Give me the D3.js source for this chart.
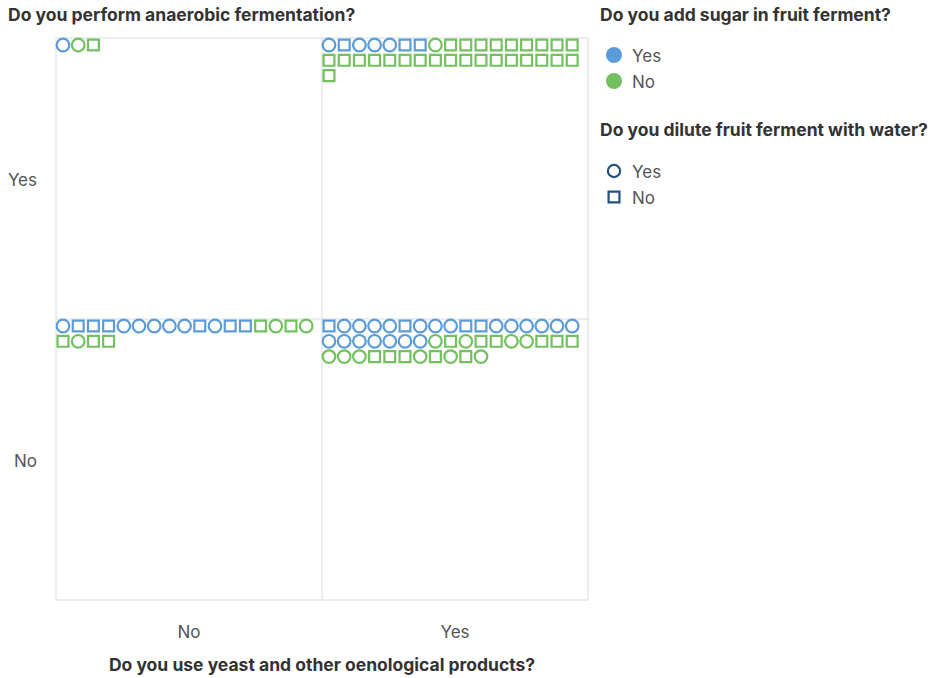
<!DOCTYPE html>
<html>
<head>
<meta charset="utf-8">
<script src="https://cdn.jsdelivr.net/npm/d3@7"></script>
<style>
  body { margin: 0; background: #fff; font-family: Inter, "Noto Sans", sans-serif; }
</style>
</head>
<body>
<div id="chart"></div>
<script>
// categories
const yeastCats = ['No', 'Yes'];        // x axis
const anaerobicCats = ['Yes', 'No'];    // y axis
const sugarCats = ['Yes', 'No'];        // colour
const diluteCats = ['Yes', 'No'];       // shape

// each response as "sugar/dilute", Y = Yes, N = No, in drawing order per cell
const cellNoYes = ['Y/Y', 'N/Y', 'N/N'];
const cellYesYes = ['Y/Y', 'Y/N', 'Y/Y', 'Y/Y', 'Y/Y', 'Y/N', 'Y/N', 'N/Y',
  'N/N', 'N/N', 'N/N', 'N/N', 'N/N', 'N/N', 'N/N', 'N/N', 'N/N',
  'N/N', 'N/N', 'N/N', 'N/N', 'N/N', 'N/N', 'N/N', 'N/N', 'N/N',
  'N/N', 'N/N', 'N/N', 'N/N', 'N/N', 'N/N', 'N/N', 'N/N', 'N/N'];
const cellNoNo = ['Y/Y', 'Y/N', 'Y/N', 'Y/N', 'Y/Y', 'Y/Y', 'Y/Y', 'Y/Y', 'Y/Y',
  'Y/N', 'Y/Y', 'Y/N', 'Y/N', 'N/N', 'N/Y', 'N/N', 'N/Y',
  'N/N', 'N/Y', 'N/N', 'N/N'];
const cellYesNo = ['Y/N', 'Y/Y', 'Y/Y', 'Y/Y', 'Y/Y', 'Y/N', 'Y/Y', 'Y/Y', 'Y/Y',
  'Y/N', 'Y/N', 'Y/Y', 'Y/Y', 'Y/Y', 'Y/Y', 'Y/Y', 'Y/Y',
  'Y/Y', 'Y/Y', 'Y/Y', 'Y/Y', 'Y/Y', 'Y/Y', 'Y/Y', 'N/Y', 'N/N',
  'N/Y', 'N/N', 'N/N', 'N/Y', 'N/Y', 'N/N', 'N/N', 'N/N',
  'N/Y', 'N/Y', 'N/Y', 'N/N', 'N/N', 'N/N', 'N/Y', 'N/N', 'N/Y', 'N/N', 'N/Y'];

const cells = [
  { yeast: 'No', anaerobic: 'Yes', items: cellNoYes },
  { yeast: 'Yes', anaerobic: 'Yes', items: cellYesYes },
  { yeast: 'No', anaerobic: 'No', items: cellNoNo },
  { yeast: 'Yes', anaerobic: 'No', items: cellYesNo }
];

const width = 936;
const height = 678;
const plot = { left: 56, right: 588, top: 38, bottom: 600 };
const perRow = 17;

const svg = d3.select('#chart').append('svg')
  .attr('width', width)
  .attr('height', height);

const x = d3.scaleBand().domain(yeastCats).range([plot.left, plot.right]);
const y = d3.scaleBand().domain(anaerobicCats).range([plot.top, plot.bottom]);
const colour = d3.scaleOrdinal().domain(sugarCats).range(['#5b9bd8', '#72c15e']);
const shape = d3.scaleOrdinal().domain(diluteCats).range([d3.symbolCircle, d3.symbolSquare]);
const size = d3.scaleOrdinal().domain(diluteCats).range([125, 118]);

// position inside a cell
const col = d3.scaleLinear().domain([0, 1]).range([7, 22.2]);
const row = d3.scaleLinear().domain([0, 1]).range([7, 22.3]);

// frame and dividers
svg.append('rect')
  .attr('x', plot.left).attr('y', plot.top)
  .attr('width', plot.right - plot.left).attr('height', plot.bottom - plot.top)
  .attr('fill', 'none').attr('stroke', '#dcdcdc');
svg.append('line')
  .attr('x1', x('Yes')).attr('x2', x('Yes'))
  .attr('y1', plot.top).attr('y2', plot.bottom)
  .attr('stroke', '#dcdcdc');
svg.append('line')
  .attr('x1', plot.left).attr('x2', plot.right)
  .attr('y1', y('No')).attr('y2', y('No'))
  .attr('stroke', '#dcdcdc');

const code = v => (v === 'Y' ? 'Yes' : 'No');
const marks = cells.flatMap(c => c.items.map((s, i) => {
  const [sg, dl] = s.split('/');
  return { yeast: c.yeast, anaerobic: c.anaerobic, sugar: code(sg), dilute: code(dl), i };
}));

svg.append('g')
  .selectAll('path')
  .data(marks)
  .enter()
  .append('path')
  .attr('transform', d => `translate(${x(d.yeast) + col(d.i % perRow)},${y(d.anaerobic) + row(Math.floor(d.i / perRow))})`)
  .attr('d', d => d3.symbol().type(shape(d.dilute)).size(size(d.dilute))())
  .attr('fill', 'none')
  .attr('stroke', d => colour(d.sugar))
  .attr('stroke-width', 2.2);

// axes
const xAxis = svg.append('g')
  .attr('transform', `translate(0,${plot.bottom + 32})`)
  .call(d3.axisBottom(x).tickSize(0).tickPadding(0));
const yAxis = svg.append('g')
  .attr('transform', `translate(${plot.left - 19},2)`)
  .call(d3.axisLeft(y).tickSize(0).tickPadding(0));
[xAxis, yAxis].forEach(a => {
  a.select('.domain').remove();
  a.selectAll('text')
    .style('font-family', 'Inter, sans-serif')
    .style('font-size', '17px')
    .attr('fill', '#555');
});
xAxis.selectAll('text').attr('dy', '0.35em');

svg.append('text')
  .attr('x', 8).attr('y', 21)
  .style('font-size', '17.5px').style('font-weight', 700)
  .attr('fill', '#333')
  .text('Do you perform anaerobic fermentation?');

svg.append('text')
  .attr('x', (plot.left + plot.right) / 2).attr('y', 671)
  .attr('text-anchor', 'middle')
  .style('font-size', '17.5px').style('font-weight', 700)
  .attr('fill', '#333')
  .text('Do you use yeast and other oenological products?');

// legends
const lg = svg.append('g').attr('transform', 'translate(600,0)');
lg.append('text').attr('x', 0).attr('y', 21)
  .style('font-size', '17.5px').style('font-weight', 700).attr('fill', '#333')
  .text('Do you add sugar in fruit ferment?');
sugarCats.forEach((c, i) => {
  lg.append('circle').attr('cx', 14).attr('cy', 55 + i * 26).attr('r', 8).attr('fill', colour(c));
  lg.append('text').attr('x', 32).attr('y', 56 + i * 26).attr('dy', '0.35em')
    .style('font-size', '17px').attr('fill', '#555').text(c);
});
lg.append('text').attr('x', 0).attr('y', 136)
  .style('font-size', '17.5px').style('font-weight', 700).attr('fill', '#333')
  .text('Do you dilute fruit ferment with water?');
diluteCats.forEach((c, i) => {
  lg.append('path')
    .attr('transform', `translate(14,${171 + i * 26})`)
    .attr('d', d3.symbol().type(shape(c)).size(118)())
    .attr('fill', 'none').attr('stroke', '#24507e').attr('stroke-width', 2.2);
  lg.append('text').attr('x', 32).attr('y', 172 + i * 26).attr('dy', '0.35em')
    .style('font-size', '17px').attr('fill', '#555').text(c);
});
</script>
</body>
</html>
